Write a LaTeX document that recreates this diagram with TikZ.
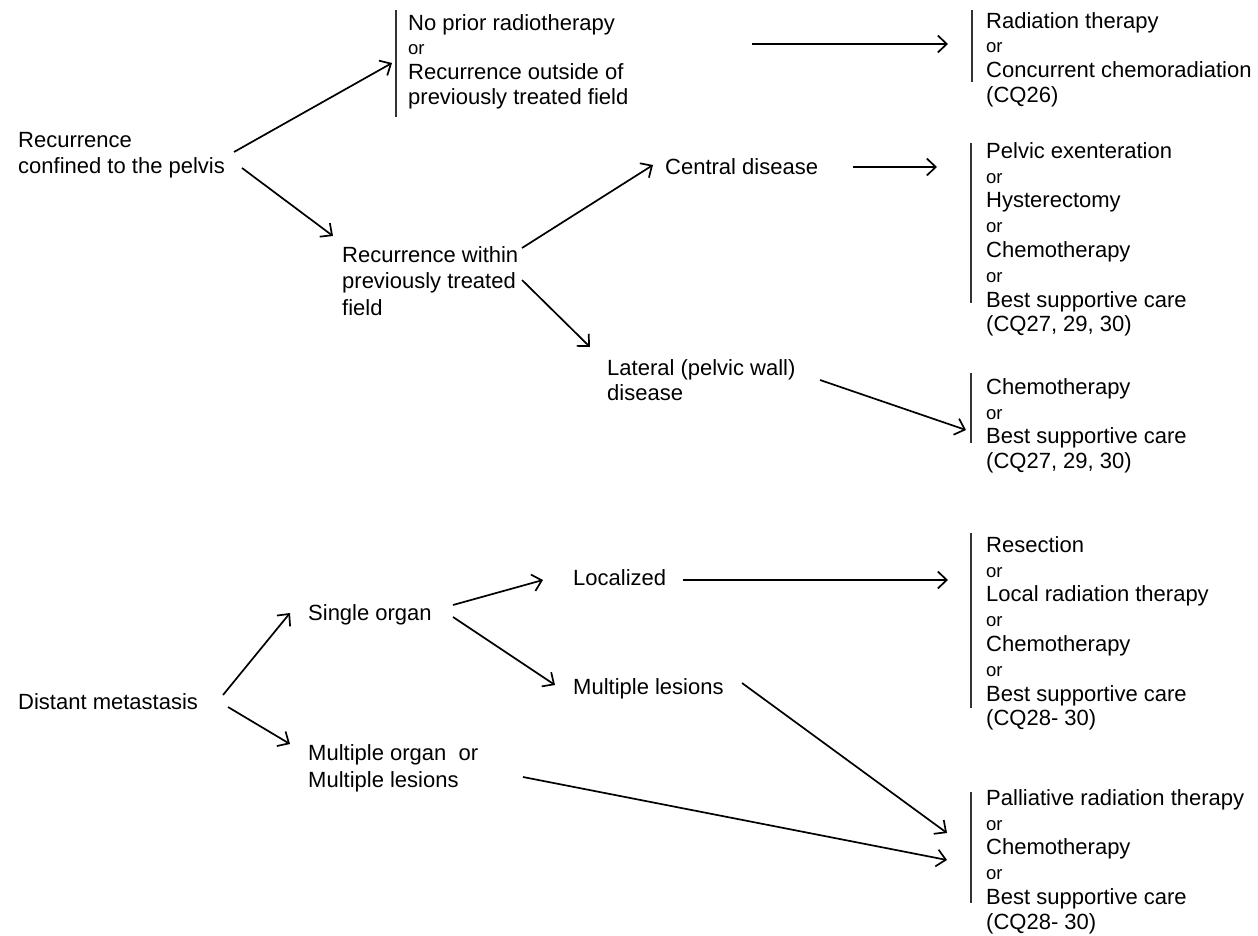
\documentclass[tikz,border=0pt]{standalone}
\usepackage{fontspec}
\setmainfont{Liberation Sans}
\usetikzlibrary{arrows.meta,calc}
\newcommand{\orf}{\fontsize{18.5}{24.8}\selectfont}
\newcommand{\fl}{\rule{0pt}{22pt}}
\begin{document}
\begin{tikzpicture}[x=1pt,y=-1pt,
  lbl/.style={anchor=north west,inner sep=0pt,align=left,font=\fontsize{22}{26.5}\selectfont},
  blk/.style={lbl,font=\fontsize{22}{24.8}\selectfont},
  arr/.style={-{Straight Barb[length=9pt,width=17pt]},line width=1.7pt},
  bar/.style={line width=2pt,draw=black!80}]
\useasboundingbox (0,0) rectangle (1258,936);

% upper part
\node[lbl] (rcp) at (18,125) {\fl Recurrence\\confined to the pelvis};
\node[blk] (np) at (408,8) {\fl No prior radiotherapy\\{\orf or}\\Recurrence outside of\\previously treated field};
\node[blk] (rt) at (986,6) {\fl Radiation therapy\\{\orf or}\\Concurrent chemoradiation\\(CQ26)};
\node[lbl] (rw) at (342,240) {\fl Recurrence within\\previously treated\\field};
\node[lbl] (cd) at (665,152) {\fl Central disease};
\node[blk] (pe) at (986,136) {\fl Pelvic exenteration\\{\orf or}\\Hysterectomy\\{\orf or}\\Chemotherapy\\{\orf or}\\Best supportive care\\(CQ27, 29, 30)};
\node[lbl,font=\fontsize{22}{25}\selectfont] (lat) at (607,353) {\fl Lateral (pelvic wall)\\disease};
\node[blk] (ch) at (986,372) {\fl Chemotherapy\\{\orf or}\\Best supportive care\\(CQ27, 29, 30)};

% lower part
\node[lbl] (dm) at (18,687) {\fl Distant metastasis};
\node[lbl] (so) at (308,598) {\fl Single organ};
\node[lbl,font=\fontsize{22}{27}\selectfont] (mo) at (308,738) {\fl Multiple organ\ \ or\\Multiple lesions};
\node[lbl] (loc) at (573,563) {\fl Localized};
\node[lbl] (ml) at (573,672) {\fl Multiple lesions};
\node[blk] (rs) at (986,530) {\fl Resection\\{\orf or}\\Local radiation therapy\\{\orf or}\\Chemotherapy\\{\orf or}\\Best supportive care\\(CQ28- 30)};
\node[blk] (pal) at (986,783) {\fl Palliative radiation therapy\\{\orf or}\\Chemotherapy\\{\orf or}\\Best supportive care\\(CQ28- 30)};

% bars
\draw[bar] ($(np.north west)+(-12,2)$) -- ($(np.north west)+(-12,109)$);
\draw[bar] ($(rt.north west)+(-14,4)$) -- ($(rt.north west)+(-14,76)$);
\draw[bar] ($(pe.north west)+(-15,7)$) -- ($(pe.north west)+(-15,167)$);
\draw[bar] ($(ch.north west)+(-15,1)$) -- ($(ch.north west)+(-15,71)$);
\draw[bar] ($(rs.north west)+(-15,3)$) -- ($(rs.north west)+(-15,178)$);
\draw[bar] ($(pal.north west)+(-15,9)$) -- ($(pal.north west)+(-15,120)$);

% arrows
\draw[arr] ($(rcp.north west)+(216,27)$) -- ($(np.north west)+(-16,55)$);
\draw[arr] ($(rcp.north west)+(224,43)$) -- ($(rw.north west)+(-9,-4)$);
\draw[arr] ($(np.north west)+(344,36)$) -- ($(rt.north west)+(-38,38)$);
\draw[arr] ($(rw.north west)+(180,8)$) -- ($(cd.north west)+(-12,13)$);
\draw[arr] ($(rw.north west)+(180,40)$) -- ($(lat.north west)+(-17,-6)$);
\draw[arr] ($(cd.north west)+(188,15)$) -- ($(pe.north west)+(-49,31)$);
\draw[arr] ($(lat.north west)+(213,27)$) -- ($(ch.north west)+(-20,58)$);
\draw[arr] ($(dm.north west)+(205,8)$) -- ($(so.north west)+(-18,15)$);
\draw[arr] ($(dm.north west)+(210,20)$) -- ($(mo.north west)+(-18,6)$);
\draw[arr] ($(so.north west)+(145,7)$) -- ($(loc.north west)+(-30,17)$);
\draw[arr] ($(so.north west)+(145,19)$) -- ($(ml.north west)+(-18,13)$);
\draw[arr] ($(loc.north west)+(110,17)$) -- ($(rs.north west)+(-38,50)$);
\draw[arr] ($(ml.north west)+(169,11)$) -- ($(pal.north west)+(-39,50)$);
\draw[arr] ($(mo.north west)+(215,39)$) -- ($(pal.north west)+(-39,77)$);
\end{tikzpicture}
\end{document}
